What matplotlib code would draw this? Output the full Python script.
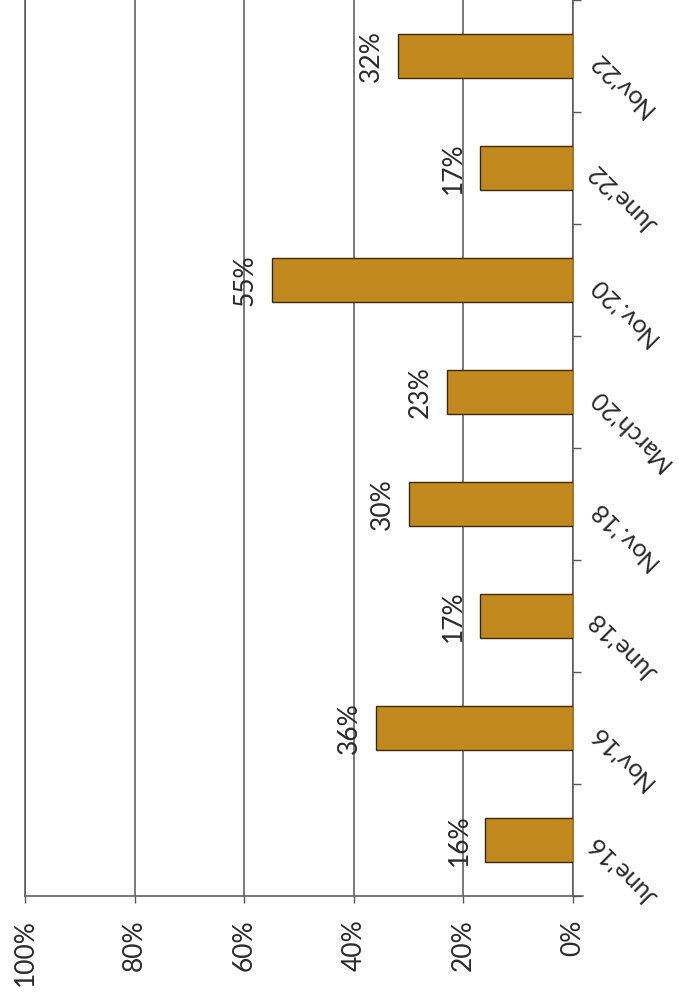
import matplotlib.pyplot as plt

# data, bottom to top as in the picture
periods = ["June'16", "Nov'16", "June'18", "Nov.'18", "March'20", "Nov.'20", "June'22", "Nov'22"]
shares = [16, 36, 17, 30, 23, 55, 17, 32]
value_ticks = [0, 20, 40, 60, 80, 100]
value_tick_labels = ["0%", "20%", "40%", "60%", "80%", "100%"]

bar_color = '#C28A1E'
line_color = '#555555'
text_color = '#2a2a2a'
plt.rcParams['font.family'] = ['Lato', 'DejaVu Sans']

fig = plt.figure(figsize=(6.79, 10.02), dpi=100)
ax = fig.add_axes([25 / 679, 106 / 1002, 548 / 679, 896 / 1002])

pos = list(range(len(periods)))
ax.barh(pos, shares, height=0.4, color=bar_color, edgecolor='#3a2a0a', linewidth=1.0, zorder=3)

for p, v in zip(pos, shares):
    ax.annotate(f"{v}%", (v, p), xytext=(-10, 0), textcoords='offset points',
                rotation=90, ha='right', va='center', fontsize=19, color=text_color)

# value axis (runs right to left)
ax.set_xlim(100, 0)
ax.set_xticks(value_ticks)
ax.set_xticklabels(value_tick_labels, rotation=90, fontsize=19, color=text_color)
ax.tick_params(axis='x', length=5, width=1, color=line_color, pad=12)
ax.xaxis.grid(True, color=line_color, linewidth=1.1)
ax.set_axisbelow(True)

# category axis on the right
ax.set_ylim(-0.5, len(periods) - 0.5)
ax.yaxis.tick_right()
ax.set_yticks(pos)
ax.set_yticklabels(periods, rotation=135, rotation_mode='anchor', ha='right', va='center',
                   fontsize=18, color=text_color)
ax.set_yticks([p - 0.5 for p in range(len(periods) + 1)], minor=True)
ax.tick_params(axis='y', which='major', length=0, pad=14)
ax.tick_params(axis='y', which='minor', length=6, width=1, color=line_color, right=True, left=False)

ax.spines['top'].set_visible(False)
for s in ['left', 'right', 'bottom']:
    ax.spines[s].set_color(line_color)
    ax.spines[s].set_linewidth(1.1)
ax.spines['bottom'].set_bounds(100, -1.8)

fig.savefig('out.png', dpi=100)
